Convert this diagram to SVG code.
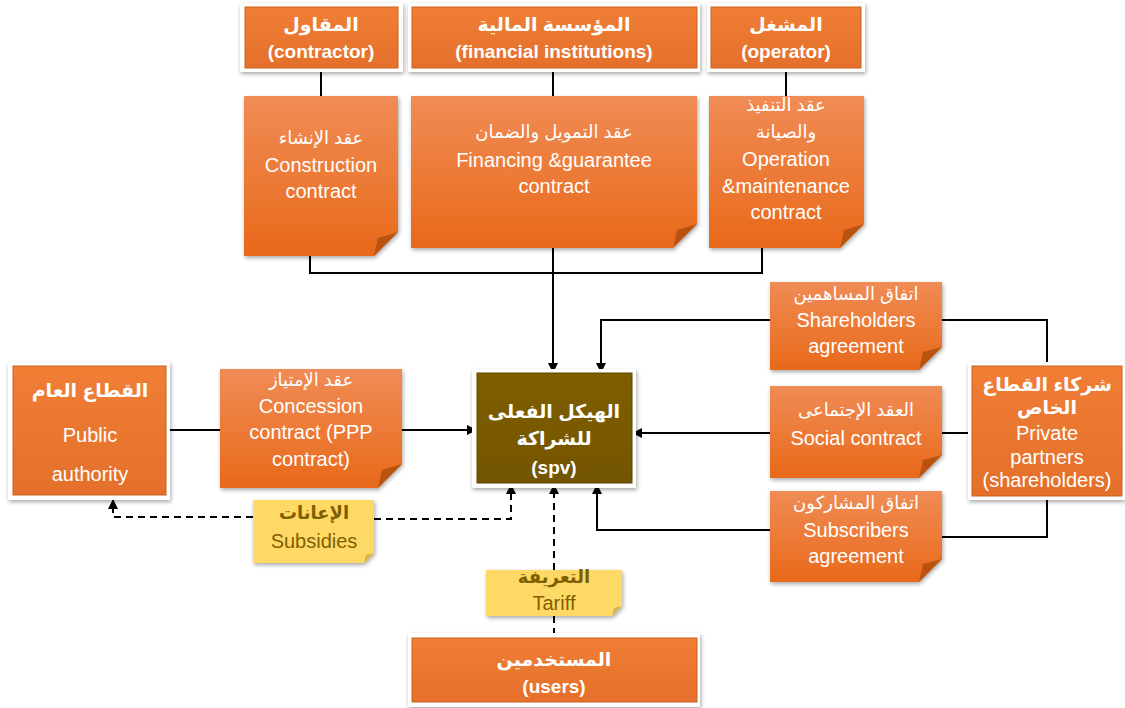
<svg xmlns="http://www.w3.org/2000/svg" width="1125" height="708" viewBox="0 0 1125 708">
<defs>
<linearGradient id="gNote" x1="0" y1="0" x2="0" y2="1"><stop offset="0" stop-color="#F08C55"/><stop offset="1" stop-color="#E8691A"/></linearGradient>
<linearGradient id="gHead" x1="0" y1="0" x2="0" y2="1"><stop offset="0" stop-color="#F07E35"/><stop offset="1" stop-color="#E4702B"/></linearGradient>
<linearGradient id="gSpv" x1="0" y1="0" x2="0" y2="1"><stop offset="0" stop-color="#7F5E00"/><stop offset="1" stop-color="#745500"/></linearGradient>
<filter id="sh" x="-10%" y="-10%" width="130%" height="130%"><feGaussianBlur in="SourceAlpha" stdDeviation="2"/><feOffset dx="1" dy="2" result="b"/><feComponentTransfer><feFuncA type="linear" slope="0.35"/></feComponentTransfer><feMerge><feMergeNode/><feMergeNode in="SourceGraphic"/></feMerge></filter>
<marker id="ar" viewBox="0 0 10 10" refX="9" refY="5" markerWidth="5" markerHeight="5" orient="auto"><path d="M0,0 L10,5 L0,10 Z" fill="#000"/></marker>
</defs>
<style>
.frame{fill:#fff;filter:url(#sh)}
.head{fill:url(#gHead);stroke:#C9601F;stroke-width:1}
.note{fill:url(#gNote);filter:url(#sh)}
.fold{fill:#B9530F}
.ynote{fill:#FFD966;filter:url(#sh)}
.yfold{fill:#D4B24A}
.spv{fill:url(#gSpv);stroke:#5E4500;stroke-width:1}
text{font-family:"Liberation Sans","DejaVu Sans",Arial,sans-serif;fill:#fff;text-anchor:middle;font-size:20px}
.b{font-weight:bold;font-size:19px}
.ar{font-size:18px}
.y{fill:#7F6000}
.ln{fill:none;stroke:#000;stroke-width:2}
.ds{fill:none;stroke:#000;stroke-width:2;stroke-dasharray:7,5}
</style>
<g id="connectors">
<path class="ln" d="M321,68 V96"/>
<path class="ln" d="M553,68 V96"/>
<path class="ln" d="M786,68 V96"/>
<path class="ln" d="M310,256 V273 H762 V248"/>
<path class="ln" d="M553,248 V372" marker-end="url(#ar)"/>
<path class="ln" d="M770,320 H601 V372" marker-end="url(#ar)"/>
<path class="ln" d="M942,320 H1047 V362"/>
<path class="ln" d="M166,430 H220"/>
<path class="ln" d="M402,430 H476" marker-end="url(#ar)"/>
<path class="ln" d="M770,433 H633" marker-end="url(#ar)"/>
<path class="ln" d="M942,433 H972"/>
<path class="ln" d="M942,537 H1047 V497"/>
<path class="ln" d="M770,530 H597 V485" marker-end="url(#ar)"/>
<path class="ds" d="M374,519 H511 V485" marker-end="url(#ar)"/>
<path class="ds" d="M253,517 H113 V500" marker-end="url(#ar)"/>
<path class="ds" d="M554,570 V485" marker-end="url(#ar)"/>
<path class="ds" d="M554,616 V638"/>
</g>
<g id="contractor">
<rect class="frame" x="240" y="3" width="163" height="69"/>
<rect class="head" x="245" y="7" width="153" height="61"/>
<text class="b" x="321" y="31">المقاول</text>
<text class="b" x="321" y="58">(contractor)</text>
</g>
<g id="financial">
<rect class="frame" x="408" y="3" width="292" height="69"/>
<rect class="head" x="412" y="7" width="285" height="61"/>
<text class="b" x="554" y="31">المؤسسة المالية</text>
<text class="b" x="554" y="58">(financial institutions)</text>
</g>
<g id="operator">
<rect class="frame" x="707" y="3" width="158" height="69"/>
<rect class="head" x="711" y="7" width="150" height="61"/>
<text class="b" x="786" y="31">المشغل</text>
<text class="b" x="786" y="58">(operator)</text>
</g>
<g id="construction">
<path class="note" d="M244,96 H398 V232 L374,256 H244 Z"/>
<path class="fold" d="M398,232 L374,256 L378,238 Z"/>
<text class="ar" x="321" y="144">عقد الإنشاء</text>
<text x="321" y="172">Construction</text>
<text x="321" y="198">contract</text>
</g>
<g id="financing">
<path class="note" d="M411,96 H697 V224 L673,248 H411 Z"/>
<path class="fold" d="M697,224 L673,248 L677,230 Z"/>
<text class="ar" x="554" y="138">عقد التمويل والضمان</text>
<text x="554" y="167">Financing &amp;guarantee</text>
<text x="554" y="193">contract</text>
</g>
<g id="om">
<path class="note" d="M709,96 H864 V224 L840,248 H709 Z"/>
<path class="fold" d="M864,224 L840,248 L844,230 Z"/>
<text class="ar" x="786" y="111">عقد التنفيذ</text>
<text class="ar" x="786" y="138">والصيانة</text>
<text x="786" y="166">Operation</text>
<text x="786" y="193">&amp;maintenance</text>
<text x="786" y="219">contract</text>
</g>
<g id="public">
<rect class="frame" x="8" y="362" width="162" height="138"/>
<rect class="head" x="13" y="366" width="153" height="129"/>
<text class="b" x="90" y="397">القطاع العام</text>
<text x="90" y="442">Public</text>
<text x="90" y="481">authority</text>
</g>
<g id="concession">
<path class="note" d="M220,369 H402 V464 L378,488 H220 Z"/>
<path class="fold" d="M402,464 L378,488 L382,470 Z"/>
<text class="ar" x="311" y="386">عقد الإمتياز</text>
<text x="311" y="413">Concession</text>
<text x="311" y="439">contract (PPP</text>
<text x="311" y="466">contract)</text>
</g>
<g id="spv">
<rect class="frame" x="472" y="369" width="164" height="119"/>
<rect class="spv" x="477" y="373" width="155" height="110"/>
<text class="b" x="554" y="418">الهيكل الفعلى</text>
<text class="b" x="554" y="445">للشراكة</text>
<text class="b" x="554" y="474">(spv)</text>
</g>
<g id="subsidies">
<path class="ynote" d="M253,500 H374 V553 L364,563 H253 Z"/>
<path class="yfold" d="M374,553 L364,563 L366,555 Z"/>
<text class="ar y b" x="314" y="519">الإعانات</text>
<text class="y" x="314" y="548">Subsidies</text>
</g>
<g id="tariff">
<path class="ynote" d="M486,570 H622 V606 L612,616 H486 Z"/>
<path class="yfold" d="M622,606 L612,616 L614,608 Z"/>
<text class="ar y b" x="554" y="583">التعريفة</text>
<text class="y" x="554" y="610">Tariff</text>
</g>
<g id="users">
<rect class="frame" x="408" y="633" width="292" height="74"/>
<rect class="head" x="412" y="638" width="285" height="64"/>
<text class="b" x="554" y="666">المستخدمين</text>
<text class="b" x="554" y="693">(users)</text>
</g>
<g id="shareholders">
<path class="note" d="M770,282 H942 V347 L919,370 H770 Z"/>
<path class="fold" d="M942,347 L919,370 L923,352 Z"/>
<text class="ar" x="856" y="300">اتفاق المساهمين</text>
<text x="856" y="327">Shareholders</text>
<text x="856" y="353">agreement</text>
</g>
<g id="social">
<path class="note" d="M770,386 H942 V455 L919,478 H770 Z"/>
<path class="fold" d="M942,455 L919,478 L923,460 Z"/>
<text class="ar" x="856" y="416">العقد الإجتماعى</text>
<text x="856" y="445">Social contract</text>
</g>
<g id="subscribers">
<path class="note" d="M770,491 H942 V559 L919,582 H770 Z"/>
<path class="fold" d="M942,559 L919,582 L923,564 Z"/>
<text class="ar" x="856" y="509">اتفاق المشاركون</text>
<text x="856" y="537">Subscribers</text>
<text x="856" y="563">agreement</text>
</g>
<g id="private">
<rect class="frame" x="968" y="362" width="157" height="138"/>
<rect class="head" x="972" y="366" width="150" height="130"/>
<text class="b" x="1047" y="391">شركاء القطاع</text>
<text class="b" x="1047" y="414">الخاص</text>
<text x="1047" y="440">Private</text>
<text x="1047" y="464">partners</text>
<text x="1047" y="487">(shareholders)</text>
</g>
</svg>
